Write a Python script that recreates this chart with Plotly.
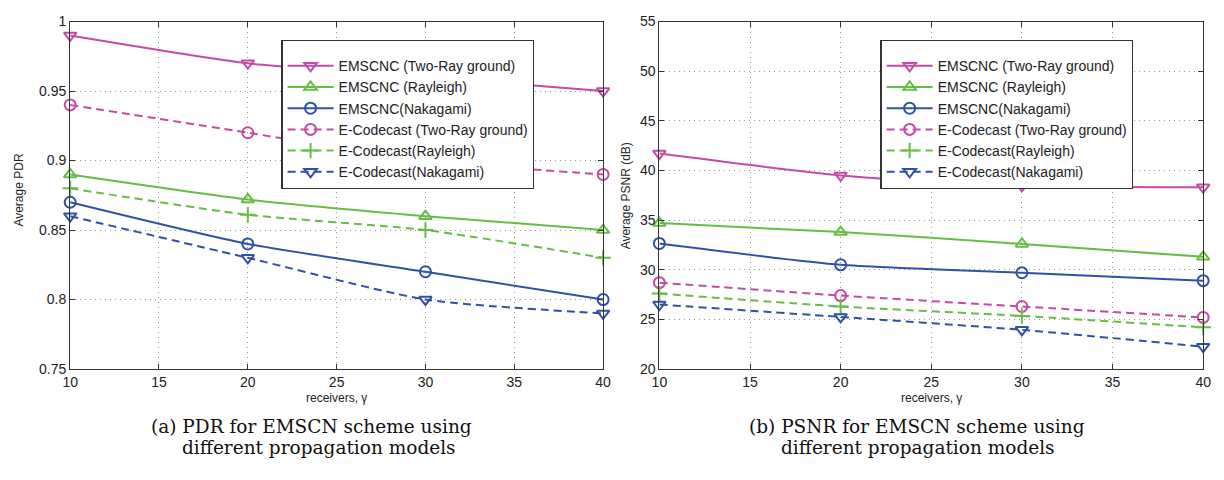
import plotly.graph_objects as go

W, H = 1224, 480

receivers = [10, 20, 30, 40]
names = [
    "EMSCNC (Two-Ray ground)",
    "EMSCNC (Rayleigh)",
    "EMSCNC(Nakagami)",
    "E-Codecast (Two-Ray ground)",
    "E-Codecast(Rayleigh)",
    "E-Codecast(Nakagami)",
]

# (a) Average PDR
pdr_emscnc_tworay = [0.99, 0.97, 0.96, 0.95]
pdr_emscnc_rayleigh = [0.89, 0.872, 0.86, 0.85]
pdr_emscnc_nakagami = [0.87, 0.84, 0.82, 0.80]
pdr_ecodecast_tworay = [0.94, 0.92, 0.90, 0.89]
pdr_ecodecast_rayleigh = [0.88, 0.861, 0.85, 0.83]
pdr_ecodecast_nakagami = [0.86, 0.83, 0.80, 0.79]

# (b) Average PSNR (dB)
psnr_emscnc_tworay = [41.7, 39.5, 38.45, 38.3]
psnr_emscnc_rayleigh = [34.7, 33.8, 32.6, 31.3]
psnr_emscnc_nakagami = [32.65, 30.5, 29.7, 28.9]
psnr_ecodecast_tworay = [28.7, 27.4, 26.3, 25.2]
psnr_ecodecast_rayleigh = [27.6, 26.3, 25.35, 24.2]
psnr_ecodecast_nakagami = [26.5, 25.25, 23.95, 22.25]

x_ticks = [10, 15, 20, 25, 30, 35, 40]
pdr_ticks = [0.75, 0.8, 0.85, 0.9, 0.95, 1]
psnr_ticks = [20, 25, 30, 35, 40, 45, 50, 55]

MAG = "#c44ba4"
GRN = "#66bd45"
BLU = "#3052a6"
styles = [
    (MAG, "solid", "triangle-down-open"),
    (GRN, "solid", "triangle-up-open"),
    (BLU, "solid", "circle-open"),
    (MAG, "8px,5px", "circle-open"),
    (GRN, "8px,5px", "cross-thin-open"),
    (BLU, "8px,5px", "triangle-down-open"),
]

pdr_series = [pdr_emscnc_tworay, pdr_emscnc_rayleigh, pdr_emscnc_nakagami,
              pdr_ecodecast_tworay, pdr_ecodecast_rayleigh, pdr_ecodecast_nakagami]
psnr_series = [psnr_emscnc_tworay, psnr_emscnc_rayleigh, psnr_emscnc_nakagami,
               psnr_ecodecast_tworay, psnr_ecodecast_rayleigh, psnr_ecodecast_nakagami]

fig = go.Figure()

def px_x(p):
    return p / W

def px_y(p):
    return 1 - p / H

for series, xa, ya, leg in [(pdr_series, "x", "y", "legend"), (psnr_series, "x2", "y2", "legend2")]:
    for name, vals, (col, dash, sym) in zip(names, series, styles):
        fig.add_trace(go.Scatter(
            x=receivers, y=vals, name=name, xaxis=xa, yaxis=ya, legend=leg,
            mode="lines+markers",
            line=dict(color=col, width=2, dash=dash, shape="spline", smoothing=0.6),
            marker=dict(symbol=sym, size=11, color=col, line=dict(color=col, width=2)),
            cliponaxis=False,
        ))

tickfont = dict(family="Liberation Sans, Arial, sans-serif", size=14, color="#222")
axis_common = dict(
    showline=True, linecolor="#333", linewidth=1.2, mirror="allticks",
    ticks="inside", ticklen=5, tickcolor="#333", tickwidth=1,
    showgrid=True, gridcolor="#999999", griddash="1px,4px", gridwidth=1,
    zeroline=False, tickfont=tickfont,
)

L0, L1 = 63, 603
R0, R1 = 660, 1211
T, B = 14, 373.5

leg_font = dict(family="Liberation Sans, Arial, sans-serif", size=14, color="#222")
fig.update_layout(
    width=W, height=H, margin=dict(l=0, r=0, t=0, b=0),
    paper_bgcolor="white", plot_bgcolor="white",
    xaxis=dict(domain=[px_x(L0), px_x(L1)], range=[10, 40], tickvals=x_ticks, anchor="y", **axis_common),
    yaxis=dict(domain=[px_y(B), px_y(T)], range=[0.75, 1], tickvals=pdr_ticks, anchor="x", **axis_common),
    xaxis2=dict(domain=[px_x(R0), px_x(R1)], range=[10, 40], tickvals=x_ticks, anchor="y2", **axis_common),
    yaxis2=dict(domain=[px_y(B), px_y(T)], range=[20, 55], tickvals=psnr_ticks, anchor="x2", **axis_common),
    legend=dict(x=px_x(277), y=px_y(33), xanchor="left", yanchor="top",
                bgcolor="white", bordercolor="#333", borderwidth=1.2,
                font=leg_font, itemwidth=46, title=dict(text=" ", font=dict(size=7))),
    legend2=dict(x=px_x(884), y=px_y(33), xanchor="left", yanchor="top",
                 bgcolor="white", bordercolor="#333", borderwidth=1.2,
                 font=leg_font, itemwidth=46, title=dict(text=" ", font=dict(size=7))),
    showlegend=True,
)

lab_font = dict(family="Liberation Sans, Arial, sans-serif", size=12, color="#222")
cap_font = dict(family="DejaVu Serif, serif", size=18.5, color="#111")
ann = [
    dict(text="Average PDR", x=px_x(11), y=px_y(188), textangle=-90, font=lab_font),
    dict(text="Average PSNR (dB)", x=px_x(626), y=px_y(194), textangle=-90, font=lab_font),
    dict(text="receivers, γ", x=px_x(333), y=px_y(403), font=lab_font),
    dict(text="receivers, γ", x=px_x(936), y=px_y(403), font=lab_font),
    dict(text="(a) PDR for EMSCN scheme using", x=px_x(308), y=px_y(433), font=cap_font),
    dict(text="different propagation models", x=px_x(315), y=px_y(455), font=cap_font),
    dict(text="(b) PSNR for EMSCN scheme using", x=px_x(921), y=px_y(433), font=cap_font),
    dict(text="different propagation models", x=px_x(922), y=px_y(455), font=cap_font),
]
for a in ann:
    fig.add_annotation(xref="paper", yref="paper", showarrow=False,
                       xanchor="center", yanchor="middle", **a)

fig.write_html("out.html")
